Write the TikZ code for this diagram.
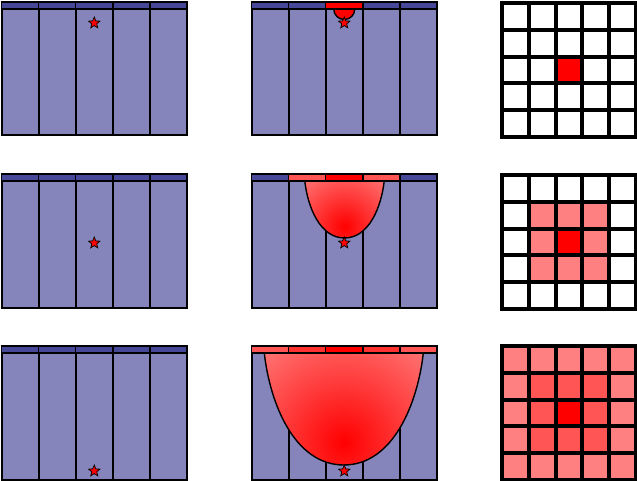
\documentclass[tikz,border=0pt]{standalone}
\usetikzlibrary{shapes.geometric}
\definecolor{colfill}{RGB}{133,133,187}
\definecolor{stripblue}{RGB}{72,72,152}
\definecolor{redA}{RGB}{255,85,85}
\definecolor{redB}{RGB}{255,50,50}
\definecolor{pinkC}{RGB}{255,128,128}
\definecolor{bowlout}{RGB}{255,165,165}
\tikzset{
  colbox/.style={fill=colfill, draw=black, line width=2pt},
  stripbox/.style={draw=black, line width=1.4pt},
  starmark/.style={star, star points=5, star point ratio=2.3, fill=red, draw=black, line width=0.7pt, minimum size=12pt, inner sep=0pt},
  gridline/.style={draw=black, line width=4pt},
  bowlline/.style={draw=black, line width=1.4pt}
}
% #1 x0, #2 ytop
\newcommand{\colpanel}[2]{%
  \foreach \i in {0,...,4} {\draw[colbox] ({#1+\i*37.1},{#2}) rectangle ({#1+(\i+1)*37.1},{#2+133.5});}}
% #1 x0, #2 ytop, #3..#7 strip colours
\newcommand{\strippanel}[7]{%
  \draw[stripbox, fill=#3] ({#1+0*37.1},{#2}) rectangle ({#1+1*37.1},{#2+7});
  \draw[stripbox, fill=#4] ({#1+1*37.1},{#2}) rectangle ({#1+2*37.1},{#2+7});
  \draw[stripbox, fill=#5] ({#1+2*37.1},{#2}) rectangle ({#1+3*37.1},{#2+7});
  \draw[stripbox, fill=#6] ({#1+3*37.1},{#2}) rectangle ({#1+4*37.1},{#2+7});
  \draw[stripbox, fill=#7] ({#1+4*37.1},{#2}) rectangle ({#1+5*37.1},{#2+7});}
% #1 cx, #2 top, #3 a, #4 d, #5 shading radius
\newcommand{\bowl}[5]{%
  \begin{scope}
    \clip ({#1-#3},{#2}) .. controls ({#1-0.93*#3},{#2+0.45*#4}) and ({#1-0.62*#3},{#2+#4}) .. ({#1},{#2+#4})
      .. controls ({#1+0.62*#3},{#2+#4}) and ({#1+0.93*#3},{#2+0.45*#4}) .. ({#1+#3},{#2}) -- cycle;
    \shade[inner color=red, outer color=bowlout] ({#1},{#2+0.8*#4}) circle[radius=#5];
  \end{scope}
  \draw[bowlline] ({#1-#3},{#2}) .. controls ({#1-0.93*#3},{#2+0.45*#4}) and ({#1-0.62*#3},{#2+#4}) .. ({#1},{#2+#4})
      .. controls ({#1+0.62*#3},{#2+#4}) and ({#1+0.93*#3},{#2+0.45*#4}) .. ({#1+#3},{#2});}
% #1 ytop, #2 outer colour, #3 ring colour
\newcommand{\gridpanel}[3]{%
  \fill[#2] (502,{#1}) rectangle (636,{#1+134});
  \fill[#3] ({502+26.8},{#1+26.8}) rectangle ({502+4*26.8},{#1+4*26.8});
  \fill[red] ({502+2*26.8},{#1+2*26.8}) rectangle ({502+3*26.8},{#1+3*26.8});
  \draw[gridline] (502,{#1}) rectangle (636,{#1+134});
  \foreach \k in {1,...,4} {
    \draw[gridline] ({502+\k*26.8},{#1}) -- ({502+\k*26.8},{#1+134});
    \draw[gridline] (502,{#1+\k*26.8}) -- (636,{#1+\k*26.8});
  }}
\begin{document}
\begin{tikzpicture}[x=1pt,y=-1pt]
\useasboundingbox (0,0) rectangle (637,481);
% left column
\colpanel{1.5}{2}
\strippanel{1.5}{2}{stripblue}{stripblue}{stripblue}{stripblue}{stripblue}
\node[starmark] (s1) at (94.25,23) {};
\colpanel{1.5}{174}
\strippanel{1.5}{174}{stripblue}{stripblue}{stripblue}{stripblue}{stripblue}
\node[starmark] (s2) at (94.25,243) {};
\colpanel{1.5}{346}
\strippanel{1.5}{346}{stripblue}{stripblue}{stripblue}{stripblue}{stripblue}
\node[starmark] (s3) at (94.25,471) {};
% middle column
\colpanel{251.5}{2}
\draw[bowlline, fill=red] (333.75,9) .. controls (333.75,15) and (338.5,19.5) .. (344.25,19.5) .. controls (350,19.5) and (354.75,15) .. (354.75,9) -- cycle;
\strippanel{251.5}{2}{stripblue}{stripblue}{red}{stripblue}{stripblue}
\node[starmark] (m1) at (344.25,23) {};
\colpanel{251.5}{174}
\bowl{344.5}{181}{39.7}{57}{88}
\strippanel{251.5}{174}{stripblue}{redA}{red}{redA}{stripblue}
\node[starmark] (m2) at (344.25,243) {};
\colpanel{251.5}{346}
\bowl{343.8}{353}{79.5}{112}{172}
\strippanel{251.5}{346}{redA}{redB}{red}{redB}{redA}
\node[starmark] (m3) at (344.25,471) {};
% right column
\gridpanel{3}{white}{white}
\gridpanel{175}{white}{pinkC}
\gridpanel{346}{pinkC}{redA}
\end{tikzpicture}
\end{document}
